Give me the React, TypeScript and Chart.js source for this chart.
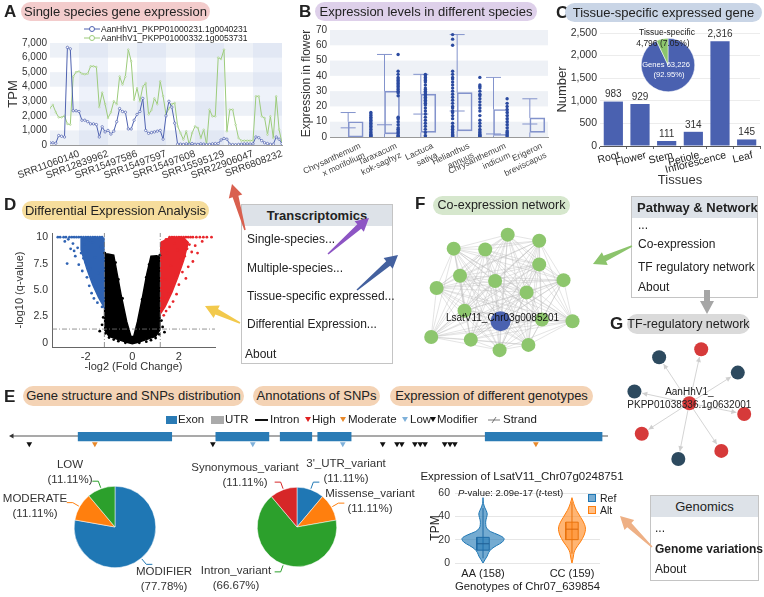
import React, { useEffect, useRef } from 'react';
import { Chart, registerables } from 'chart.js';

Chart.register(...registerables);

const FONT = "'Liberation Sans', Arial, Helvetica, sans-serif";
Chart.defaults.font.family = FONT;
Chart.defaults.color = '#333';

// ================= DATA =================
// Panel A – single species gene expression
const aTickLabels = ['SRR11060140', 'SRR12839962', 'SRR15497586', 'SRR15497597', 'SRR15497608', 'SRR15595129', 'SRR22906047', 'SRR6808232'];
const aGeneNames = ['AanHhV1_PKPP01000231.1g0040231', 'AanHhV1_PKPP01000332.1g0053731'];
const aExprGene1 = [
  150, 150, 120, 650, 600, 550, 6700, 6600, 2350, 2350,
  2300, 1700, 1700, 1600, 1450, 1450, 1400, 550, 1250, 900,
  1000, 750, 950, 1600, 2500, 2300, 2250, 1100, 1100, 1700,
  2100, 2300, 3200, 1000, 800, 850, 900, 950, 1000, 400,
  2000, 3000, 2600, 1500, 50, 60, 40, 80, 60, 100,
  50, 40, 80, 60, 30, 40, 80, 100, 100, 350,
  450, 400, 50, 30, 20, 40, 60, 80, 80, 70,
  80, 550, 500, 300, 150, 100, 50, 50, 550, 400,
  100,
];
const aExprGene2 = [
  2540, 2750, 2250, 1900, 1900, 2000, 1450, 1400, 4700, 5000,
  5050, 4900, 4850, 4900, 5400, 5400, 5350, 2600, 3600, 2800,
  1850, 2250, 3000, 2800, 4700, 4150, 4700, 6550, 5750, 3100,
  3900, 3000, 4000, 4250, 2100, 2400, 3200, 2800, 4370, 3350,
  2100, 2500, 2800, 2880, 1300, 820, 370, 940, 20, 820,
  1280, 1170, 480, 1050, 20, 2430, 1970, 1970, 6000, 5900,
  6550, 940, 2430, 2430, 1400, 480, 300, 300, 300, 300,
  300, 3340, 3340, 1970, 1850, 710, 1970, 480, 3340, 1050,
  140,
];

// Panel B – expression levels in different species
const bSpecies = [['Chrysanthemum', 'x morifolium'], ['Taraxacum', 'kok-saghyz'], ['Lactuca', 'sativa'], ['Helianthus', 'annuus'], ['Chrysanthemum', 'indicum'], ['Erigeron', 'breviscapus']];
const bMin = [0, 0, 0, 0, 0, 0];
const bQ1 = [0, 2, 3, 4, 1, 3];
const bMedian = [6, 8, 15, 17, 2, 8.5];
const bQ3 = [10, 30, 28, 29, 18, 12.5];
const bMax = [16, 54, 41, 67, 39, 25];
const bPtsCm = [0, 0.5, 1, 1.5, 2, 3, 4, 5, 6, 7, 8, 9, 10, 11, 12, 13, 14, 15, 16];
const bPtsTk = [0, 0.5, 1, 2, 3, 4, 5, 6, 8, 10, 12, 13, 27, 29, 30, 31, 32, 33, 34, 35, 36, 37, 38, 39, 41, 43, 54];
const bPtsLs = [0, 1, 3, 5, 7, 9, 11, 13, 15, 17, 19, 21, 22, 23, 24, 25, 26, 27, 28, 29, 30, 31, 32, 34, 36, 37, 38, 39, 40, 41];
const bPtsHa = [0, 0.5, 1, 1.5, 2, 3, 4, 5, 6, 7, 9, 12, 14, 16, 17, 19, 20, 22, 24, 26, 28, 30, 32, 34, 36, 38, 39, 41, 43, 60, 64, 67];
const bPtsCi = [0, 0.5, 1, 1.5, 2, 3, 4, 5, 7, 9, 11, 14, 17, 19, 21, 23, 25, 27, 28, 30, 32, 33, 34, 39];
const bPtsEb = [0, 1, 2, 3, 4, 6, 8, 10, 12, 14, 16, 18, 20, 22, 25];
const bPoints = [bPtsCm, bPtsTk, bPtsLs, bPtsHa, bPtsCi, bPtsEb];

// Panel C – tissue-specific expressed genes
const cTissues = ['Root', 'Flower', 'Stem', 'Petiole', 'Inflorescence', 'Leaf'];
const cCounts = [983, 929, 111, 314, 2316, 145];
const cPieLabels = ['Genes', 'Tissue-specific'];
const cPieValues = [63226, 4796];

// Panel D – volcano plot
const dFcCut = 1.2;
const dQCut = 1.3;
const dDownPoints = [
  [-3.2, 10], [-3.1, 10], [-2.95, 10], [-2.85, 10], [-2.7, 10], [-2.6, 10], [-2.5, 10], [-2.4, 10], [-2.3, 10], [-2.2, 10],
  [-2.1, 10], [-2.0, 10], [-1.9, 10], [-1.8, 10], [-1.7, 10], [-1.6, 10], [-1.5, 10], [-1.4, 10], [-1.3, 10],
  [-2.8, 7.5], [-2.65, 8.9], [-2.55, 9.4], [-2.45, 8.2], [-2.35, 9.0], [-2.3, 7.4], [-2.2, 8.5], [-2.15, 6.8], [-2.05, 9.3],
  [-2.0, 7.6], [-1.95, 6.2], [-1.9, 8.7], [-1.85, 5.4], [-1.8, 7.0], [-1.75, 4.7], [-1.7, 9.5], [-1.7, 6.0], [-1.65, 4.2],
  [-1.6, 8.1], [-1.55, 5.3], [-1.5, 3.8], [-1.45, 6.6], [-1.4, 4.5], [-1.35, 9.1], [-1.3, 3.4], [-1.28, 5.8], [-2.9, 9.6],
  [-2.75, 9.8], [-2.5, 8.7], [-2.1, 8.0], [-1.85, 9.7],
];
const dUpPoints = [
  [1.6, 10], [1.7, 10], [1.8, 10], [1.9, 10], [2.0, 10], [2.1, 10], [2.2, 10], [2.3, 10], [2.4, 10], [2.5, 10], [2.6, 10],
  [2.75, 10], [2.9, 10], [3.05, 10], [3.2, 10], [3.4, 10],
  [2.6, 7.7], [2.55, 8.6], [2.45, 9.3], [2.4, 7.2], [2.3, 6.1], [2.25, 8.2], [2.2, 9.6], [2.15, 6.7], [2.1, 7.9], [2.0, 5.5],
  [1.95, 8.8], [1.9, 4.6], [1.85, 6.4], [1.8, 9.4], [1.75, 3.9], [1.7, 5.2], [1.65, 7.3], [1.6, 3.4], [1.55, 4.6], [1.5, 8.5],
  [1.45, 3.0], [1.4, 6.0], [1.35, 2.6], [1.3, 4.3], [2.8, 8.5], [2.7, 9.2], [3.0, 9.6], [2.35, 8.9], [1.3, 9.5], [1.45, 9.8],
];
const dNsPoints = [
  [-1.25, 2.4], [-1.3, 1.7], [-1.15, 0.9], [-1.0, 0.5], [-0.8, 0.3], [-0.6, 0.15], [1.25, 2.1], [1.3, 1.5], [1.15, 0.8],
  [1.0, 0.45], [0.8, 0.25], [0.6, 0.1], [-1.4, 1.1], [1.38, 1.0], [-0.72, 7.6], [-0.6, 6.0], [-0.42, 4.2], [0.72, 7.4],
  [0.6, 6.2], [0.42, 4.1], [-1.18, 8.5], [1.18, 8.3], [-0.3, 0.0], [0.3, 0.0],
];
const dNsCloud = [
  [-1.22, 8.4], [-1.2, 6], [-1.19, 3], [-1.18, 1.2], [-1.0, 0.6], [-0.6, 0.3], [-0.25, 0.05], [0, -0.1], [0.25, 0.05],
  [0.6, 0.3], [1.0, 0.6], [1.18, 1.2], [1.19, 3], [1.2, 6], [1.2, 8.1], [1.05, 8.25], [0.8, 8.2], [0.62, 6.5], [0.45, 4.5],
  [0.22, 2.0], [0.06, 0.6], [-0.06, 0.6], [-0.24, 2.0], [-0.48, 4.5], [-0.65, 6.5], [-0.8, 8.3], [-1.05, 8.4], [-1.22, 8.4],
];
const dDownCloud = [[-2.2, 9.9], [-1.22, 9.9], [-1.22, 3.4], [-1.45, 4.3], [-1.7, 5.5], [-1.95, 7.0], [-2.2, 8.8], [-2.2, 9.9]];
const dUpCloud = [[1.22, 9.5], [1.22, 2.8], [1.4, 3.4], [1.7, 4.8], [1.95, 6.2], [2.2, 7.8], [2.4, 9.5], [2.2, 9.95], [1.6, 9.95], [1.22, 9.5]];

// Panel E – gene structure, SNP annotations, genotype expression
const eExons = [[111, 268], [342, 431], [450, 503], [513, 569], [794, 990]];
const eSnpModifier = [29, 337, 622, 646, 654, 676, 685, 693, 726, 735, 743];
const eSnpModerate = [139, 879];
const eSnpLow = [404, 555];
const eImpactLabels = ['MODIFIER', 'MODERATE', 'LOW'];
const eImpactCounts = [7, 1, 1];
const eEffectLabels = ["3'_UTR_variant", 'Missense_variant', 'Intron_variant', 'Synonymous_variant'];
const eEffectCounts = [1, 1, 6, 1];
const eGenotypes = ['AA (158)', 'CC (159)'];
const eViolinLevels = [0, 3, 6, 9, 12, 15, 18, 21, 24, 27, 30, 33, 36, 39, 42, 45, 48, 51, 54, 56];
const eDensityAA = [0, 0.1, 0.2, 0.27, 0.4, 0.65, 0.92, 1.0, 0.75, 0.35, 0.17, 0.13, 0.13, 0.17, 0.2, 0.15, 0.07, 0.02, 0, 0];
const eDensityCC = [0, 0.04, 0.07, 0.1, 0.17, 0.28, 0.4, 0.5, 0.58, 0.63, 0.64, 0.6, 0.52, 0.42, 0.32, 0.22, 0.14, 0.08, 0.03, 0];
const eBoxAA = [4, 11, 16.5, 22, 47]; // low whisker, q1, median, q3, high whisker
const eBoxCC = [8, 20, 29, 35, 52];

// Panel F – co-expression network
const fNodes = [
  [103, 11], [43, 27], [78, 28], [138, 18], [138, 45], [50, 58], [89, 64], [165, 63], [24, 72], [124, 77],
  [55, 98], [141, 108], [175, 110], [18, 128], [62, 131], [126, 137], [94, 143],
];
const fHub = [95, 110];
const fHubName = 'LsatV11_Chr03g0085201';

// Panel G – TF regulatory network
const gHub = [90, 68];
const gHubName = ['AanHhV1_', 'PKPP01038336.1g0632001'];
const gRedTargets = [[103, 8], [150, 80], [38, 102], [125, 121]];
const gNavyTargets = [[57, 17], [143, 34], [30, 55], [78, 130]];

// ================= STYLE =================
const A_BLUE = '#4f62b0';
const A_GREEN = '#9ccb7b';
const B_BOX = '#8393cc';
const B_DOT = '#2b4aa0';
const C_BAR = '#4a61b0';
const C_GREEN = '#8cc56c';
const D_BLUE = '#2f63b3';
const D_RED = '#e8262b';
const EXON = '#2a7bb5';
const PIE_COLORS_1 = ['#1f77b4', '#ff7f0e', '#2ca02c'];
const PIE_COLORS_2 = ['#1f77b4', '#ff7f0e', '#2ca02c', '#d62728'];
const F_GREEN = '#8dc66d';
const F_BLUE = '#4a62b0';
const G_RED = '#d63a3a';
const G_NAVY = '#2d4a5f';

const baseOpts: any = {
  responsive: false,
  animation: false,
  events: [],
  plugins: { legend: { display: false }, tooltip: { enabled: false } },
};

function fixW(w: number) { return (s: any) => { s.width = w; }; }
function fixH(h: number) { return (s: any) => { s.height = h; }; }
const fmt = (v: number) => Number(v).toLocaleString('en-US');

function bandsPlugin(id: string, hBands: number[][], vBands: number[][], hColor: string, vColor: string) {
  return {
    id,
    beforeDatasetsDraw(chart: any) {
      const { ctx, chartArea: a, scales } = chart;
      const x = scales.x, y = scales.y;
      ctx.save();
      ctx.fillStyle = hColor;
      for (const [lo, hi] of hBands) {
        const y1 = y.getPixelForValue(hi), y2 = y.getPixelForValue(lo);
        ctx.fillRect(a.left, y1, a.right - a.left, y2 - y1);
      }
      ctx.fillStyle = vColor;
      for (const [lo, hi] of vBands) {
        const x1 = x.getPixelForValue(lo), x2 = x.getPixelForValue(hi);
        ctx.fillRect(x1, a.top, x2 - x1, a.bottom - a.top);
      }
      ctx.restore();
    },
  };
}

// ================= CONFIGS =================
function configA() {
  return {
    type: 'line',
    data: {
      datasets: [
        { data: aExprGene1.map((v, i) => ({ x: i, y: v })), borderColor: A_BLUE, borderWidth: 1, pointRadius: 1.2, pointBorderWidth: 0.7, pointBorderColor: A_BLUE, pointBackgroundColor: '#fff', tension: 0 },
        { data: aExprGene2.map((v, i) => ({ x: i, y: v })), borderColor: A_GREEN, borderWidth: 1, pointRadius: 0.8, pointBorderWidth: 0.6, pointBorderColor: A_GREEN, pointBackgroundColor: '#fff', tension: 0 },
      ],
    },
    options: {
      ...baseOpts,
      layout: { padding: { top: 23, right: 10, left: 0, bottom: 0 } },
      scales: {
        x: {
          type: 'linear', min: 0, max: 80,
          afterBuildTicks: (s: any) => { s.ticks = aTickLabels.map((_, k) => ({ value: (k + 1) * 10 })); },
          afterFit: fixH(55),
          grid: { display: false, drawTicks: false },
          border: { color: '#999' },
          ticks: { autoSkip: false, maxRotation: 20, minRotation: 20, padding: 3, font: { size: 10 }, callback: (v: any) => aTickLabels[Math.round(v / 10) - 1] ?? '' },
        },
        y: {
          min: 0, max: 7000,
          afterBuildTicks: (s: any) => { s.ticks = [0, 1000, 2000, 3000, 4000, 5000, 6000, 7000].map((value) => ({ value })); },
          afterFit: fixW(50),
          grid: { display: false, drawTicks: false },
          border: { display: false },
          ticks: { autoSkip: false, padding: 3, font: { size: 10 }, callback: (v: any) => fmt(v) },
          title: { display: true, text: 'TPM', font: { size: 13 }, padding: { top: 6, bottom: 0 } },
        },
      },
    },
    plugins: [bandsPlugin('bandsA', [[6000, 7000], [4000, 5000], [2000, 3000], [0, 1000]], [[10, 20], [30, 40], [50, 60], [70, 80]], 'rgba(215,224,238,0.45)', 'rgba(205,218,240,0.35)')],
  };
}

const bWhiskers = {
  id: 'bWhiskers',
  beforeDatasetsDraw(chart: any) {
    const { ctx, scales } = chart;
    const x = scales.x, y = scales.y;
    ctx.save();
    ctx.strokeStyle = B_BOX;
    ctx.lineWidth = 1;
    const line = (x1: number, y1: number, x2: number, y2: number) => { ctx.beginPath(); ctx.moveTo(x1, y1); ctx.lineTo(x2, y2); ctx.stroke(); };
    bSpecies.forEach((_, i) => {
      const cx = x.getPixelForValue(i);
      const hw = 7.5;
      const py = (v: number) => y.getPixelForValue(v);
      line(cx, py(bMax[i]), cx, py(bQ3[i]));
      line(cx, py(bQ1[i]), cx, py(bMin[i]));
      line(cx - hw, py(bMax[i]), cx + hw, py(bMax[i]));
      line(cx - hw, py(bMedian[i]), cx + hw, py(bMedian[i]));
    });
    ctx.restore();
  },
};

function configB() {
  return {
    type: 'bar',
    data: {
      labels: bSpecies,
      datasets: [
        { type: 'scatter', xAxisID: 'xp', data: bPoints.flatMap((arr, i) => arr.map((v) => ({ x: i, y: v }))), pointRadius: 1.7, backgroundColor: B_DOT, borderWidth: 0 },
        { type: 'bar', data: bQ1.map((q, i) => [q, bQ3[i]]), backgroundColor: 'rgba(255,255,255,0)', borderColor: B_BOX, borderWidth: 1, borderSkipped: false, barThickness: 15 },
      ],
    },
    options: {
      ...baseOpts,
      layout: { padding: { top: 10, right: 5, left: 0, bottom: 0 } },
      scales: {
        x: {
          afterFit: fixH(58),
          grid: { display: false, drawTicks: false },
          border: { color: '#999' },
          ticks: { autoSkip: false, maxRotation: 25, minRotation: 25, padding: 4, labelOffset: 12, font: { size: 8.5 }, color: '#444' },
        },
        xp: { type: 'linear', min: -0.5, max: 5.5, display: false },
        y: {
          min: 0, max: 70,
          afterFit: fixW(47),
          grid: { display: false, drawTicks: false },
          border: { display: false },
          ticks: { autoSkip: false, stepSize: 10, padding: 3, font: { size: 10 } },
          title: { display: true, text: 'Expression in flower', font: { size: 12 }, padding: { top: 16, bottom: 0 } },
        },
      },
    },
    plugins: [bandsPlugin('bandsB', [[60, 70], [40, 50], [20, 30], [0, 10]], [], 'rgba(232,236,243,0.75)', 'rgba(0,0,0,0)'), bWhiskers],
  };
}

const cValueLabels = {
  id: 'cValueLabels',
  afterDatasetsDraw(chart: any) {
    const { ctx } = chart;
    const meta = chart.getDatasetMeta(0);
    ctx.save();
    ctx.font = `10px ${FONT}`;
    ctx.fillStyle = '#333';
    ctx.textAlign = 'center';
    ctx.textBaseline = 'bottom';
    meta.data.forEach((bar: any, i: number) => ctx.fillText(fmt(cCounts[i]), bar.x, bar.y - 2));
    ctx.restore();
  },
};

function configC() {
  return {
    type: 'bar',
    data: { labels: cTissues, datasets: [{ data: cCounts, backgroundColor: C_BAR, barPercentage: 0.8, categoryPercentage: 0.9 }] },
    options: {
      ...baseOpts,
      layout: { padding: { top: 11, right: 4, left: 0, bottom: 0 } },
      scales: {
        x: {
          afterFit: fixH(48),
          grid: { display: true, drawOnChartArea: false, offset: true, tickLength: 3, color: '#666' },
          border: { color: '#555' },
          ticks: { autoSkip: false, maxRotation: 14, minRotation: 14, padding: 0, labelOffset: 6, font: { size: 10.5 }, color: '#222' },
          title: { display: true, text: 'Tissues', font: { size: 13 }, padding: { top: 0, bottom: 6 } },
        },
        y: {
          min: 0, max: 2500,
          afterFit: fixW(45),
          grid: { color: '#ececec', drawTicks: false },
          border: { display: false },
          ticks: { autoSkip: false, stepSize: 500, padding: 3, font: { size: 10.5 }, callback: (v: any) => fmt(v) },
          title: { display: true, text: 'Number', font: { size: 13 }, padding: { top: 0, bottom: 0 } },
        },
      },
    },
    plugins: [cValueLabels],
  };
}

const cPieText = {
  id: 'cPieText',
  afterDatasetsDraw(chart: any) {
    const { ctx } = chart;
    const total = cPieValues.reduce((a, b) => a + b, 0);
    const pct = (v: number) => `(${(v / total * 100).toFixed(2)}%)`;
    const arc = chart.getDatasetMeta(0).data[0];
    const cx = arc.x, cy = arc.y;
    ctx.save();
    ctx.textAlign = 'center';
    ctx.textBaseline = 'middle';
    ctx.font = `8.5px ${FONT}`;
    ctx.fillStyle = '#222';
    ctx.fillText(cPieLabels[1], cx - 1, cy - 32);
    ctx.fillText(`${fmt(cPieValues[1])} ${pct(cPieValues[1])}`, cx - 5, cy - 21);
    ctx.fillStyle = '#fff';
    ctx.font = `7.6px ${FONT}`;
    ctx.fillText(`${cPieLabels[0]} ${fmt(cPieValues[0])}`, cx - 2, cy);
    ctx.fillText(pct(cPieValues[0]), cx + 1, cy + 10);
    ctx.restore();
  },
};

function configCPie() {
  return {
    type: 'pie',
    data: { labels: cPieLabels, datasets: [{ data: cPieValues, backgroundColor: [C_BAR, C_GREEN], borderColor: '#fff', borderWidth: 0.5 }] },
    options: { ...baseOpts, layout: { padding: { left: 11, right: 15, top: 13, bottom: 3 } } },
    plugins: [cPieText],
  };
}

function configD() {
  const pts = (arr: number[][]) => arr.map(([x, y]) => ({ x, y }));
  const dash = { showLine: true, borderColor: '#777', borderWidth: 0.8, borderDash: [5, 2, 1, 2], pointRadius: 0, fill: false };
  const cloud = (arr: number[][], c: string) => ({ data: pts(arr), showLine: true, fill: 'shape', backgroundColor: c, borderColor: c, borderWidth: 1.5, pointRadius: 0, tension: 0 });
  return {
    type: 'scatter',
    data: {
      datasets: [
        { ...dash, data: [{ x: -dFcCut, y: -0.4 }, { x: -dFcCut, y: 10.4 }] },
        { ...dash, data: [{ x: dFcCut, y: -0.4 }, { x: dFcCut, y: 10.4 }] },
        { ...dash, data: [{ x: -3.45, y: dQCut }, { x: 3.55, y: dQCut }] },
        { data: pts(dDownPoints), pointRadius: 1.4, backgroundColor: D_BLUE, borderWidth: 0 },
        { data: pts(dUpPoints), pointRadius: 1.4, backgroundColor: D_RED, borderWidth: 0 },
        { data: pts(dNsPoints), pointRadius: 1.4, backgroundColor: '#000', borderWidth: 0 },
        cloud(dDownCloud, D_BLUE),
        cloud(dUpCloud, D_RED),
        cloud(dNsCloud, '#000'),
      ],
    },
    options: {
      ...baseOpts,
      layout: { padding: { top: 11, right: 10, left: 0, bottom: 0 } },
      scales: {
        x: {
          type: 'linear', min: -3.45, max: 3.55,
          afterBuildTicks: (s: any) => { s.ticks = [-2, 0, 2].map((value) => ({ value })); },
          afterFit: fixH(27),
          grid: { display: false, drawTicks: false },
          border: { color: '#666' },
          ticks: { padding: 3, font: { size: 11 } },
          title: { display: true, text: '-log2 (Fold Change)', font: { size: 11 }, padding: { top: 0, bottom: 0 } },
        },
        y: {
          min: -0.4, max: 10.4,
          afterBuildTicks: (s: any) => { s.ticks = [0, 2.5, 5, 7.5, 10].map((value) => ({ value })); },
          afterFit: fixW(52),
          grid: { display: false, drawTicks: false },
          border: { color: '#666' },
          ticks: { padding: 4, font: { size: 10.5 }, callback: (v: any) => (v === 0 || v === 10 ? String(v) : Number(v).toFixed(1)) },
          title: { display: true, text: '-log10 (q-value)', font: { size: 11 }, padding: { top: 13, bottom: 0 } },
        },
      },
    },
  };
}

const fEdges = {
  id: 'fEdges',
  beforeDatasetsDraw(chart: any) {
    const { ctx, scales } = chart;
    const all = [...fNodes, fHub];
    ctx.save();
    ctx.strokeStyle = 'rgba(185,185,185,0.55)';
    ctx.lineWidth = 0.7;
    for (let i = 0; i < all.length; i++) {
      for (let j = i + 1; j < all.length; j++) {
        ctx.beginPath();
        ctx.moveTo(scales.x.getPixelForValue(all[i][0]), scales.y.getPixelForValue(all[i][1]));
        ctx.lineTo(scales.x.getPixelForValue(all[j][0]), scales.y.getPixelForValue(all[j][1]));
        ctx.stroke();
      }
    }
    ctx.restore();
  },
  afterDatasetsDraw(chart: any) {
    const { ctx, scales } = chart;
    ctx.save();
    ctx.font = `10px ${FONT}`;
    ctx.fillStyle = '#111';
    ctx.textAlign = 'center';
    ctx.textBaseline = 'middle';
    ctx.fillText(fHubName, scales.x.getPixelForValue(fHub[0]) + 2, scales.y.getPixelForValue(fHub[1]) - 3);
    ctx.restore();
  },
};

function netScales(w: number, h: number) {
  return {
    x: { type: 'linear', min: 0, max: w, display: false },
    y: { type: 'linear', min: 0, max: h, reverse: true, display: false },
  };
}

function configF() {
  return {
    type: 'scatter',
    data: {
      datasets: [
        { data: [{ x: fHub[0], y: fHub[1] }], pointRadius: 10, backgroundColor: F_BLUE, borderWidth: 0, clip: false },
        { data: fNodes.map(([x, y]) => ({ x, y })), pointRadius: 7, backgroundColor: F_GREEN, borderWidth: 0, clip: false },
      ],
    },
    options: { ...baseOpts, layout: { padding: 0 }, scales: netScales(200, 160) },
    plugins: [fEdges],
  };
}

const gEdges = {
  id: 'gEdges',
  beforeDatasetsDraw(chart: any) {
    const { ctx, scales } = chart;
    const hx = scales.x.getPixelForValue(gHub[0]), hy = scales.y.getPixelForValue(gHub[1]);
    ctx.save();
    ctx.strokeStyle = '#cfcfcf';
    ctx.fillStyle = '#cfcfcf';
    ctx.lineWidth = 0.9;
    for (const [tx0, ty0] of [...gRedTargets, ...gNavyTargets]) {
      const tx = scales.x.getPixelForValue(tx0), ty = scales.y.getPixelForValue(ty0);
      const dx = tx - hx, dy = ty - hy, L = Math.hypot(dx, dy), ux = dx / L, uy = dy / L;
      const ex = tx - ux * 8, ey = ty - uy * 8;
      ctx.beginPath(); ctx.moveTo(hx, hy); ctx.lineTo(ex, ey); ctx.stroke();
      const bx = ex - ux * 5, by = ey - uy * 5;
      ctx.beginPath();
      ctx.moveTo(ex, ey);
      ctx.lineTo(bx - uy * 2.5, by + ux * 2.5);
      ctx.lineTo(bx + uy * 2.5, by - ux * 2.5);
      ctx.closePath();
      ctx.fill();
    }
    ctx.restore();
  },
  afterDatasetsDraw(chart: any) {
    const { ctx, scales } = chart;
    const hx = scales.x.getPixelForValue(gHub[0]), hy = scales.y.getPixelForValue(gHub[1]);
    ctx.save();
    ctx.font = `10px ${FONT}`;
    ctx.fillStyle = '#222';
    ctx.textAlign = 'center';
    ctx.textBaseline = 'middle';
    ctx.fillText(gHubName[0], hx, hy - 11);
    ctx.fillText(gHubName[1], hx, hy + 2);
    ctx.restore();
  },
};

function configG() {
  return {
    type: 'scatter',
    data: {
      datasets: [
        { data: [{ x: gHub[0], y: gHub[1] }], pointRadius: 7, backgroundColor: G_RED, borderWidth: 0, clip: false },
        { data: gRedTargets.map(([x, y]) => ({ x, y })), pointRadius: 7, backgroundColor: G_RED, borderWidth: 0, clip: false },
        { data: gNavyTargets.map(([x, y]) => ({ x, y })), pointRadius: 7, backgroundColor: G_NAVY, borderWidth: 0, clip: false },
      ],
    },
    options: { ...baseOpts, layout: { padding: 0 }, scales: netScales(164, 140) },
    plugins: [gEdges],
  };
}

function configGene() {
  const tri = (xs: number[], c: string) => ({ type: 'scatter', data: xs.map((x) => ({ x, y: 'snp' })), pointStyle: 'triangle', rotation: 180, pointRadius: 3.3, backgroundColor: c, borderWidth: 0, clip: false });
  return {
    type: 'bar',
    data: {
      labels: ['gene', 'snp'],
      datasets: [
        ...eExons.map(([s, e]) => ({ type: 'bar', data: [[s, e], null], backgroundColor: EXON, barThickness: 10, grouped: false, borderSkipped: false })),
        tri(eSnpModifier, '#111'),
        tri(eSnpModerate, '#e8892b'),
        tri(eSnpLow, '#7fb1da'),
        { type: 'scatter', data: [{ x: 0, y: 'gene' }], pointStyle: 'triangle', rotation: 270, pointRadius: 3, backgroundColor: '#333', borderWidth: 0, clip: false },
        { type: 'line', data: [{ x: 0, y: 'gene' }, { x: 1000, y: 'gene' }], borderColor: '#555', borderWidth: 1.2, pointRadius: 0 },
      ],
    },
    options: {
      ...baseOpts,
      indexAxis: 'y',
      layout: { padding: { left: 12, right: 12, top: 4, bottom: 2 } },
      scales: { x: { type: 'linear', min: 0, max: 1000, display: false }, y: { display: false } },
    },
  };
}

function pieLabelPlugin(id: string, labels: string[], colors: string[], layout: number[][]) {
  return {
    id,
    afterDatasetsDraw(chart: any) {
      const { ctx } = chart;
      const data = chart.data.datasets[0].data as number[];
      const total = data.reduce((a, b) => a + b, 0);
      const meta = chart.getDatasetMeta(0);
      ctx.save();
      meta.data.forEach((arc: any, i: number) => {
        const { x: cx, y: cy, startAngle, endAngle, outerRadius: r } = arc.getProps(['x', 'y', 'startAngle', 'endAngle', 'outerRadius'], true);
        const a = (startAngle + endAngle) / 2;
        const cos = Math.cos(a), sin = Math.sin(a);
        const x0 = cx + (r + 1) * cos, y0 = cy + (r + 1) * sin;
        const x1 = cx + (r + 8) * cos, y1 = cy + (r + 8) * sin;
        const x2 = x1 + (cos >= 0 ? 6 : -6);
        ctx.strokeStyle = colors[i];
        ctx.lineWidth = 1;
        ctx.beginPath(); ctx.moveTo(x0, y0); ctx.lineTo(x1, y1); ctx.lineTo(x2, y1); ctx.stroke();
        const [dx, dy] = layout[i];
        ctx.fillStyle = '#333';
        ctx.font = `11.5px ${FONT}`;
        ctx.textAlign = 'center';
        ctx.textBaseline = 'middle';
        ctx.fillText(labels[i], cx + dx, cy + dy - 7.5);
        ctx.fillText(`(${(data[i] / total * 100).toFixed(2)}%)`, cx + dx, cy + dy + 7.5);
      });
      ctx.restore();
    },
  };
}

function configPie1() {
  return {
    type: 'pie',
    data: { labels: eImpactLabels, datasets: [{ data: eImpactCounts, backgroundColor: PIE_COLORS_1, borderColor: '#fff', borderWidth: 0.5 }] },
    options: { ...baseOpts, layout: { padding: { left: 74, right: 59, top: 31, bottom: 29 } } },
    plugins: [pieLabelPlugin('pie1Labels', eImpactLabels, PIE_COLORS_1, [[49, 52.5], [-80, -20.5], [-45, -54.5]])],
  };
}

function configPie2() {
  return {
    type: 'pie',
    data: { labels: eEffectLabels, datasets: [{ data: eEffectCounts, backgroundColor: PIE_COLORS_2, borderColor: '#fff', borderWidth: 0.5 }] },
    options: { ...baseOpts, layout: { padding: { left: 67, right: 83, top: 32, bottom: 30 } } },
    plugins: [pieLabelPlugin('pie2Labels', eEffectLabels, PIE_COLORS_2, [[49, -55.5], [73, -25.5], [-61, 51.5], [-52, -51.5]])],
  };
}

function configViolin() {
  const VW = 0.236;
  const BW = 0.07;
  const violin = (c: number, dens: number[], fillC: string, stroke: string) => {
    const right = eViolinLevels.map((y, k) => ({ x: c + dens[k] * VW, y }));
    const left = eViolinLevels.map((y, k) => ({ x: c - dens[k] * VW, y })).reverse();
    return { data: [...right, ...left], showLine: true, fill: 'shape', backgroundColor: fillC, borderColor: stroke, borderWidth: 1, pointRadius: 0, tension: 0.35 };
  };
  const box = (c: number, b: number[], fillC: string, stroke: string) => ({
    data: [{ x: c - BW, y: b[1] }, { x: c + BW, y: b[1] }, { x: c + BW, y: b[3] }, { x: c - BW, y: b[3] }, { x: c - BW, y: b[1] }],
    showLine: true, fill: 'shape', backgroundColor: fillC, borderColor: stroke, borderWidth: 1, pointRadius: 0, tension: 0,
  });
  const med = (c: number, b: number[], stroke: string) => ({ data: [{ x: c - BW, y: b[2] }, { x: c + BW, y: b[2] }], showLine: true, borderColor: stroke, borderWidth: 1, pointRadius: 0 });
  const whisk = (c: number, b: number[], stroke: string) => ({ data: [{ x: c, y: b[0] }, { x: c, y: b[4] }], showLine: true, borderColor: stroke, borderWidth: 1, pointRadius: 0 });
  return {
    type: 'scatter',
    data: {
      datasets: [
        med(0, eBoxAA, '#1f5f95'), med(1, eBoxCC, '#d8660c'),
        box(0, eBoxAA, 'rgba(31,119,180,0.55)', '#1f6aa5'), box(1, eBoxCC, 'rgba(255,127,14,0.45)', '#e8720c'),
        whisk(0, eBoxAA, '#1f6aa5'), whisk(1, eBoxCC, '#e8720c'),
        violin(0, eDensityAA, 'rgba(31,119,180,0.62)', '#1f77b4'),
        violin(1, eDensityCC, 'rgba(255,127,14,0.58)', '#ff7f0e'),
      ],
    },
    options: {
      ...baseOpts,
      layout: { padding: { top: 13, right: 10, left: 0, bottom: 0 } },
      scales: {
        x: {
          type: 'linear', min: -0.315, max: 1.315,
          afterBuildTicks: (s: any) => { s.ticks = [0, 1].map((value) => ({ value })); },
          afterFit: fixH(34),
          grid: { display: false, drawTicks: false },
          border: { display: false },
          ticks: { padding: 4, font: { size: 11 }, color: '#222', callback: (v: any) => eGenotypes[Math.round(v)] },
          title: { display: true, text: 'Genotypes of Chr07_639854', font: { size: 11.5 }, color: '#222', padding: { top: 0, bottom: 3 } },
        },
        y: {
          min: 0, max: 60,
          afterFit: fixW(45),
          grid: { color: '#e6e6e6', drawTicks: false },
          border: { display: false },
          ticks: { autoSkip: false, stepSize: 20, padding: 5, font: { size: 10.5 } },
          title: { display: true, text: 'TPM', font: { size: 12 }, color: '#222', padding: { top: 18, bottom: 0 } },
        },
      },
    },
  };
}

// ================= COMPONENTS =================
function ChartBox({ x, y, w, h, config }: { x: number; y: number; w: number; h: number; config: () => any }) {
  const ref = useRef<HTMLCanvasElement | null>(null);
  useEffect(() => {
    const chart = new Chart(ref.current as HTMLCanvasElement, config());
    return () => chart.destroy();
  }, []);
  return <canvas ref={ref} width={w} height={h} style={{ position: 'absolute', left: x, top: y, width: w, height: h }} />;
}

function T({ x, y, size = 12, bold = false, color = '#222', anchor = 'left', children }: any) {
  const style: any = { position: 'absolute', top: y - size * 0.6, fontSize: size, lineHeight: `${size * 1.2}px`, whiteSpace: 'nowrap', fontWeight: bold ? 700 : 400, color };
  if (anchor === 'left') style.left = x;
  else if (anchor === 'center') { style.left = x; style.transform = 'translateX(-50%)'; }
  else style.right = 764 - x;
  return <div style={style}>{children}</div>;
}

function Pill({ x0, x1, y0, y1, bg, text, size = 13 }: any) {
  return (
    <div style={{ position: 'absolute', left: x0, top: y0, width: x1 - x0, height: y1 - y0, borderRadius: (y1 - y0) / 2, background: bg, fontSize: size, lineHeight: `${y1 - y0}px`, textAlign: 'center', whiteSpace: 'nowrap', color: '#222' }}>
      {text}
    </div>
  );
}

function Menu({ x, y, w, h, title, bold, align, items }: any) {
  return (
    <div style={{ position: 'absolute', left: x, top: y, width: w, height: h, border: '1px solid #c4c4c4', background: '#fff', boxSizing: 'border-box' }}>
      <div style={{ height: 21, background: '#dde2e8', fontSize: 13, lineHeight: '21px', fontWeight: bold ? 700 : 400, textAlign: align, paddingLeft: align === 'left' ? 5 : 0, whiteSpace: 'nowrap', color: '#222' }}>{title}</div>
      {items.map((it: any, k: number) => (
        <div key={k} style={{ position: 'absolute', left: it.x, top: it.y - 8, fontSize: 12, lineHeight: '16px', fontWeight: it.bold ? 700 : 400, whiteSpace: 'nowrap', color: '#222' }}>{it.t}</div>
      ))}
    </div>
  );
}

function arrowPts(x1: number, y1: number, x2: number, y2: number, tailW: number, shaftW: number, headW: number, headL: number) {
  const dx = x2 - x1, dy = y2 - y1, L = Math.hypot(dx, dy), ux = dx / L, uy = dy / L, px = -uy, py = ux;
  const bx = x2 - ux * headL, by = y2 - uy * headL;
  const P = (x: number, y: number) => `${x.toFixed(1)},${y.toFixed(1)}`;
  return [
    P(x1 + px * tailW / 2, y1 + py * tailW / 2), P(bx + px * shaftW / 2, by + py * shaftW / 2), P(bx + px * headW / 2, by + py * headW / 2),
    P(x2, y2), P(bx - px * headW / 2, by - py * headW / 2), P(bx - px * shaftW / 2, by - py * shaftW / 2), P(x1 - px * tailW / 2, y1 - py * tailW / 2),
  ].join(' ');
}

const ARROWS = [
  { p: [245, 230, 232, 184], c: '#d9604f', t: 1.5 },
  { p: [328, 254, 369, 218], c: '#8d55c4', t: 1.5 },
  { p: [357, 290, 398, 255], c: '#44619f', t: 1.5 },
  { p: [240, 323, 205, 306], c: '#f2c94c', t: 1.5 },
  { p: [632, 246, 593, 264], c: '#8cc46c', t: 1.5 },
  { p: [707, 290, 707, 314], c: '#a6a6a6', t: 6 },
  { p: [652, 547, 620, 516], c: '#eeb085', t: 1.5 },
];

export default function App() {
  return (
    <div style={{ position: 'absolute', left: 0, top: 0, width: 764, height: 597, background: '#fff', overflow: 'hidden', fontFamily: FONT, color: '#222' }}>
      <ChartBox x={0} y={20} w={292} h={180} config={configA} />
      <ChartBox x={283} y={20} w={270} h={175} config={configB} />
      <ChartBox x={555} y={22} w={209} h={172} config={configC} />
      <ChartBox x={630} y={25} w={80} h={70} config={configCPie} />
      <ChartBox x={0} y={222} w={225} h={152} config={configD} />
      <ChartBox x={405} y={215} w={200} h={160} config={configF} />
      <ChartBox x={600} y={335} w={164} h={140} config={configG} />
      <ChartBox x={0} y={428} w={620} h={24} config={configGene} />
      <ChartBox x={0} y={455} w={215} h={142} config={configPie1} />
      <ChartBox x={190} y={455} w={230} h={142} config={configPie2} />
      <ChartBox x={410} y={480} w={200} h={117} config={configViolin} />

      {/* panel letters */}
      <T x={4} y={12} size={17} bold>A</T>
      <T x={299} y={12} size={17} bold>B</T>
      <T x={556} y={13} size={17} bold>C</T>
      <T x={4} y={205} size={17} bold>D</T>
      <T x={4} y={397} size={17} bold>E</T>
      <T x={415} y={204} size={17} bold>F</T>
      <T x={610} y={324} size={17} bold>G</T>

      {/* pills */}
      <Pill x0={21} x1={210} y0={2} y1={21} bg="#f3cccc" text="Single species gene expression" />
      <Pill x0={315} x1={537} y0={2} y1={21} bg="#ded0ea" text="Expression levels in different species" />
      <Pill x0={565} x1={762} y0={3} y1={22} bg="#c9d5e6" text="Tissue-specific expressed gene" />
      <Pill x0={22} x1={209} y0={201} y1={220} bg="#f6dd9c" text="Differential Expression Analysis" />
      <Pill x0={433} x1={570} y0={196} y1={215} bg="#d6e7cd" text="Co-expression network" size={12.5} />
      <Pill x0={627} x1={750} y0={314} y1={334} bg="#dadada" text="TF-regulatory network" size={12.5} />
      <Pill x0={23} x1={244} y0={386} y1={406} bg="#f4d3b5" text="Gene structure and SNPs distribution" />
      <Pill x0={253} x1={380} y0={386} y1={406} bg="#f4d3b5" text="Annotations of SNPs" />
      <Pill x0={390} x1={593} y0={386} y1={406} bg="#f4d3b5" text="Expression of different genotypes" />

      {/* panel A legend */}
      <svg style={{ position: 'absolute', left: 84, top: 24, width: 18, height: 20 }}>
        <line x1={0} y1={5} x2={16} y2={5} stroke={A_BLUE} strokeWidth={1} />
        <circle cx={8} cy={5} r={2.5} fill="#fff" stroke={A_BLUE} strokeWidth={1} />
        <line x1={0} y1={14} x2={16} y2={14} stroke={A_GREEN} strokeWidth={1} />
        <circle cx={8} cy={14} r={2.5} fill="#fff" stroke={A_GREEN} strokeWidth={1} />
      </svg>
      <T x={101} y={29} size={8.5}>{aGeneNames[0]}</T>
      <T x={101} y={38} size={8.5}>{aGeneNames[1]}</T>

      {/* gene structure legend */}
      <svg style={{ position: 'absolute', left: 0, top: 410, width: 620, height: 20 }}>
        <rect x={166} y={6} width={11} height={8} fill={EXON} />
        <rect x={211} y={6} width={13} height={8} fill="#aaaaaa" />
        <line x1={255} y1={10} x2={268} y2={10} stroke="#111" strokeWidth={2} />
        <polygon points="305,7 311,7 308,12" fill="#e02020" />
        <polygon points="340,7 346,7 343,12" fill="#e8892b" />
        <polygon points="402,7 408,7 405,12" fill="#7fb1da" />
        <polygon points="430,7 436,7 433,12" fill="#111" />
        <line x1={488} y1={10} x2={500} y2={10} stroke="#555" strokeWidth={0.8} />
        <line x1={492} y1={13} x2={496} y2={7} stroke="#555" strokeWidth={0.8} />
      </svg>
      <T x={178} y={420} size={11.5}>Exon</T>
      <T x={225} y={420} size={11.5}>UTR</T>
      <T x={270} y={420} size={11.5}>Intron</T>
      <T x={312} y={420} size={11.5}>High</T>
      <T x={348} y={420} size={11.5}>Moderate</T>
      <T x={410} y={420} size={11.5}>Low</T>
      <T x={437} y={420} size={11.5}>Modifier</T>
      <T x={503} y={420} size={11.5}>Strand</T>

      {/* violin panel texts */}
      <T x={522} y={477} size={11.5} anchor="center">Expression of LsatV11_Chr07g0248751</T>
      <div style={{ position: 'absolute', left: 458, top: 487, fontSize: 9.5, lineHeight: '12px', whiteSpace: 'nowrap', color: '#222' }}>
        <i>P</i>-value: 2.09e-17 (<i>t</i>-test)
      </div>
      <div style={{ position: 'absolute', left: 588, top: 494, width: 8, height: 8, background: 'rgba(31,119,180,0.6)', border: '1px solid #1f77b4', boxSizing: 'border-box' }} />
      <div style={{ position: 'absolute', left: 588, top: 506, width: 8, height: 8, background: 'rgba(255,127,14,0.5)', border: '1px solid #ff7f0e', boxSizing: 'border-box' }} />
      <T x={600} y={498} size={10.5}>Ref</T>
      <T x={600} y={510} size={10.5}>Alt</T>

      {/* menus */}
      <Menu x={241} y={204} w={152} h={160} title="Transcriptomics" bold align="center"
        items={[{ t: 'Single-species...', x: 5, y: 34 }, { t: 'Multiple-species...', x: 5, y: 63 }, { t: 'Tissue-specific expressed...', x: 5, y: 91 }, { t: 'Differential Expression...', x: 5, y: 119 }, { t: 'About', x: 3, y: 149 }]} />
      <Menu x={631} y={196} w={127} h={102} title="Pathway & Network" bold align="left"
        items={[{ t: '...', x: 6, y: 28 }, { t: 'Co-expression', x: 6, y: 47 }, { t: 'TF regulatory network', x: 6, y: 70 }, { t: 'About', x: 6, y: 90 }]} />
      <Menu x={650} y={495} w={109} h={86} title="Genomics" bold={false} align="center"
        items={[{ t: '...', x: 4, y: 32 }, { t: 'Genome variations', x: 4, y: 53, bold: true }, { t: 'About', x: 4, y: 73 }]} />

      {/* arrows */}
      <svg style={{ position: 'absolute', left: 0, top: 0, width: 764, height: 597, pointerEvents: 'none' }}>
        {ARROWS.map((a, k) => (
          <polygon key={k} points={arrowPts(a.p[0], a.p[1], a.p[2], a.p[3], a.t, 6, 14, 13)} fill={a.c} />
        ))}
      </svg>
    </div>
  );
}
